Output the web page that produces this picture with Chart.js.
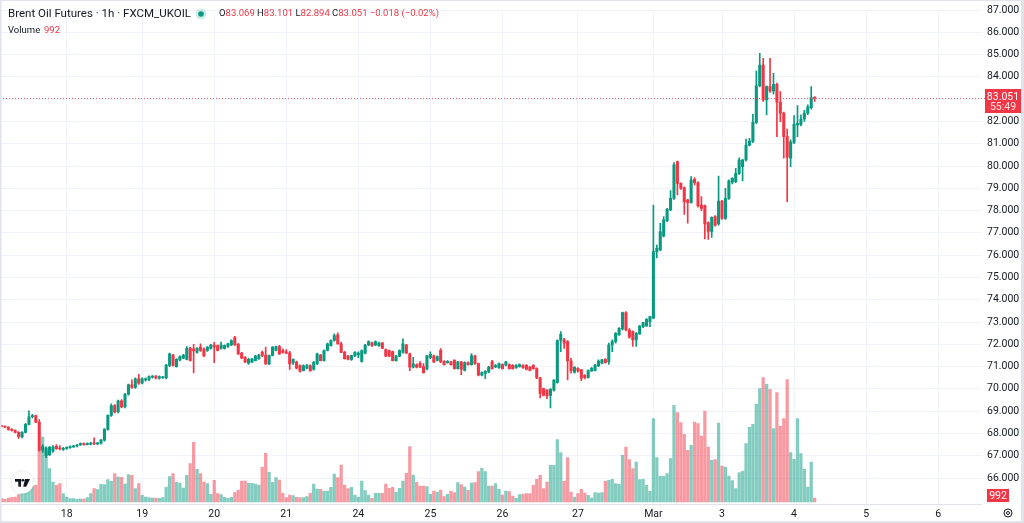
<!DOCTYPE html>
<html>
<head>
<meta charset="utf-8">
<script src="https://cdn.jsdelivr.net/npm/chart.js@4.4.1/dist/chart.umd.min.js"></script>
<style>
  html, body { margin: 0; padding: 0; background: #ffffff; }
  #wrap { width: 1024px; height: 523px; position: relative; }
</style>
</head>
<body>
<div id="wrap"><canvas id="grafico" width="1024" height="523"></canvas></div>
<script>
// hourly candles (index 0 = first bar on the left)
let opens = [
  68.33, 68.31, 68.28, 68.18, 68.13, 68.05, 67.85, 68.05, 68.41, 68.75,
  68.80, 68.51, 67.25, 67.00, 67.05, 67.20, 67.42, 67.32, 67.28, 67.33,
  67.36, 67.40, 67.43, 67.48, 67.55, 67.50, 67.52, 67.55, 67.53, 67.56,
  67.70, 68.18, 68.81, 69.25, 68.96, 69.46, 69.19, 69.76, 70.18, 70.06,
  70.45, 70.26, 70.40, 70.42, 70.52, 70.57, 70.48, 70.50, 70.50, 71.05,
  71.52, 71.00, 71.30, 71.38, 71.32, 71.82, 71.80, 71.64, 71.87, 71.79,
  71.72, 71.82, 71.97, 71.94, 71.82, 71.82, 71.90, 71.97, 72.30, 72.00,
  71.60, 71.41, 71.15, 71.20, 71.27, 71.35, 71.64, 71.52, 71.12, 71.50,
  71.72, 71.90, 71.72, 71.66, 71.62, 71.17, 71.20, 71.05, 70.82, 70.93,
  71.05, 70.87, 71.12, 71.52, 71.27, 71.72, 71.94, 72.17, 72.42, 72.02,
  71.64, 71.47, 71.32, 71.49, 71.52, 71.23, 71.60, 71.97, 72.06, 71.97,
  71.94, 72.06, 71.76, 71.72, 71.67, 71.27, 71.47, 71.64, 71.97, 71.57,
  70.97, 71.08, 71.15, 71.00, 70.90, 71.40, 71.48, 71.28, 71.73, 71.24,
  71.18, 71.21, 71.28, 70.91, 71.21, 70.83, 71.18, 71.09, 71.48, 71.13,
  70.61, 70.69, 70.76, 71.21, 70.98, 70.95, 71.09, 71.06, 71.09, 71.06,
  70.95, 71.00, 71.06, 71.06, 70.98, 71.06, 70.91, 70.49, 70.01, 69.94,
  69.71, 69.94, 70.28, 72.17, 72.20, 72.12, 71.25, 70.75, 70.92, 70.85,
  70.61, 70.51, 70.80, 70.82, 71.03, 71.15, 71.33, 71.22, 71.97, 72.12,
  72.42, 72.69, 73.42, 72.64, 72.57, 72.20, 72.47, 72.79, 72.82, 73.02,
  73.17, 76.16, 76.23, 76.86, 77.55, 78.03, 78.55, 80.20, 79.22, 79.03,
  78.48, 78.36, 79.40, 79.25, 78.25, 78.22, 77.46, 77.06, 77.73, 77.40,
  78.43, 77.65, 78.55, 79.27, 79.30, 79.67, 79.97, 80.27, 80.94, 81.10,
  81.96, 83.60, 84.53, 82.96, 83.56, 83.37, 83.67, 82.86, 82.37, 81.32,
  80.35, 81.06, 81.84, 81.87, 82.11, 82.37, 82.62, 83.069
];
let highs = [
  68.36, 68.33, 68.30, 68.22, 68.16, 68.08, 68.08, 68.45, 69.01, 68.86,
  68.82, 68.62, 67.50, 67.40, 67.42, 67.45, 67.50, 67.45, 67.38, 67.40,
  67.44, 67.46, 67.51, 67.58, 67.58, 67.58, 67.60, 67.80, 67.60, 67.73,
  68.22, 68.83, 69.33, 69.30, 69.50, 69.52, 69.80, 70.22, 70.40, 70.50,
  70.65, 70.50, 70.50, 70.58, 70.60, 70.60, 70.58, 70.56, 71.10, 71.60,
  71.55, 71.36, 71.48, 71.55, 71.90, 71.86, 72.00, 71.85, 72.02, 71.84,
  71.90, 72.00, 72.09, 71.98, 72.10, 71.98, 72.05, 72.20, 72.36, 72.04,
  71.64, 71.45, 71.38, 71.37, 71.50, 71.55, 71.70, 71.87, 71.52, 71.90,
  71.92, 71.95, 71.80, 71.76, 71.68, 71.35, 71.25, 71.08, 71.08, 71.10,
  71.08, 71.22, 71.60, 71.55, 71.75, 72.05, 72.20, 72.47, 72.51, 72.10,
  71.68, 71.50, 71.52, 71.67, 71.66, 71.75, 72.00, 72.15, 72.10, 72.15,
  72.10, 72.08, 71.80, 71.75, 71.70, 71.50, 71.75, 72.24, 72.00, 71.60,
  71.42, 71.12, 71.22, 71.13, 71.50, 71.66, 71.52, 71.48, 71.81, 71.27,
  71.27, 71.24, 71.31, 71.24, 71.24, 71.21, 71.21, 71.58, 71.51, 71.16,
  70.76, 70.82, 71.01, 71.28, 71.09, 71.16, 71.12, 71.24, 71.12, 71.09,
  71.09, 71.12, 71.09, 71.09, 71.01, 71.09, 70.94, 70.52, 70.04, 69.97,
  70.01, 70.42, 72.20, 72.57, 72.27, 72.17, 71.37, 71.00, 70.95, 70.88,
  70.64, 70.85, 70.97, 71.10, 71.30, 71.33, 71.36, 72.05, 72.20, 72.52,
  72.75, 73.45, 73.47, 72.70, 72.60, 72.52, 72.85, 72.99, 73.15, 73.26,
  78.25, 76.45, 77.43, 77.73, 78.10, 78.90, 80.15, 80.22, 79.25, 79.05,
  78.50, 79.52, 79.48, 79.30, 78.63, 78.25, 77.50, 77.72, 77.78, 79.55,
  78.46, 79.00, 79.38, 79.48, 79.90, 80.37, 80.30, 81.21, 81.24, 82.32,
  84.26, 85.06, 84.83, 83.60, 84.83, 84.16, 83.72, 83.34, 82.42, 81.66,
  81.17, 82.26, 82.71, 82.30, 82.50, 82.74, 83.56, 83.101
];
let lows = [
  68.29, 68.26, 68.15, 68.10, 68.02, 67.78, 67.80, 68.02, 68.38, 68.70,
  68.48, 67.20, 67.15, 66.91, 67.00, 67.15, 67.28, 67.26, 67.24, 67.28,
  67.33, 67.37, 67.40, 67.46, 67.47, 67.48, 67.48, 67.50, 67.50, 67.52,
  67.65, 68.15, 68.76, 68.92, 68.92, 69.15, 69.15, 69.72, 70.02, 70.02,
  70.20, 70.22, 70.35, 70.37, 70.48, 70.45, 70.44, 70.47, 70.45, 71.00,
  71.02, 70.97, 71.25, 71.35, 71.30, 71.25, 70.72, 71.60, 71.68, 71.45,
  71.68, 71.78, 71.17, 71.70, 71.78, 71.78, 71.86, 71.94, 71.95, 71.55,
  71.35, 71.18, 71.10, 71.17, 71.25, 71.32, 71.45, 71.10, 71.08, 71.48,
  71.70, 71.55, 71.60, 71.58, 70.87, 71.10, 70.90, 70.75, 70.80, 70.90,
  70.78, 70.84, 71.10, 71.25, 71.24, 71.70, 71.92, 72.14, 72.00, 71.62,
  71.33, 71.30, 71.28, 71.45, 71.40, 71.20, 71.57, 71.94, 71.90, 71.94,
  71.90, 71.80, 71.45, 71.45, 71.25, 71.24, 71.44, 71.60, 71.58, 70.82,
  70.94, 70.94, 70.95, 70.70, 70.85, 71.36, 71.18, 71.25, 71.18, 71.06,
  71.15, 71.06, 70.88, 70.88, 70.64, 70.80, 71.06, 71.06, 71.10, 70.58,
  70.58, 70.46, 70.73, 70.88, 70.95, 70.92, 70.88, 71.03, 70.88, 70.88,
  70.92, 70.97, 70.92, 70.85, 70.80, 70.88, 70.46, 69.59, 69.68, 69.56,
  69.15, 69.90, 70.25, 71.67, 71.82, 70.40, 70.70, 70.70, 70.75, 70.37,
  70.45, 70.48, 70.78, 70.80, 71.00, 71.12, 71.15, 71.10, 71.67, 72.05,
  72.40, 72.65, 72.60, 72.28, 71.90, 71.90, 72.44, 72.75, 72.80, 72.79,
  73.15, 75.88, 76.20, 76.82, 77.50, 78.00, 78.50, 78.70, 78.95, 77.83,
  77.43, 78.33, 79.15, 78.15, 78.00, 76.73, 76.71, 76.79, 77.30, 77.35,
  77.60, 77.60, 78.50, 79.20, 79.25, 79.62, 79.33, 80.22, 80.90, 81.05,
  81.90, 83.55, 82.90, 82.29, 83.30, 83.22, 81.32, 81.99, 80.35, 78.40,
  79.97, 81.00, 81.32, 81.80, 82.00, 82.30, 82.55, 82.894
];
let closes = [
  68.31, 68.28, 68.18, 68.13, 68.05, 67.85, 68.05, 68.41, 68.75, 68.80,
  68.51, 67.25, 67.42, 67.35, 67.38, 67.40, 67.32, 67.30, 67.33, 67.36,
  67.40, 67.43, 67.48, 67.55, 67.50, 67.56, 67.55, 67.53, 67.56, 67.70,
  68.18, 68.81, 69.25, 68.96, 69.46, 69.19, 69.76, 70.18, 70.06, 70.45,
  70.26, 70.45, 70.45, 70.55, 70.57, 70.48, 70.55, 70.53, 71.07, 71.57,
  71.05, 71.32, 71.45, 71.52, 71.82, 71.27, 71.70, 71.82, 71.72, 71.48,
  71.87, 71.97, 71.88, 71.72, 71.97, 71.94, 72.02, 72.17, 71.97, 71.57,
  71.38, 71.20, 71.33, 71.35, 71.47, 71.52, 71.50, 71.12, 71.50, 71.87,
  71.90, 71.57, 71.64, 71.60, 71.12, 71.32, 70.93, 70.78, 71.05, 71.05,
  70.82, 71.20, 71.57, 71.27, 71.72, 72.02, 72.17, 72.39, 72.02, 71.64,
  71.35, 71.32, 71.49, 71.64, 71.60, 71.72, 71.97, 72.12, 71.94, 72.12,
  72.05, 71.82, 71.47, 71.47, 71.27, 71.47, 71.72, 72.02, 71.61, 70.97,
  71.12, 70.97, 70.98, 70.73, 71.48, 71.55, 71.21, 71.45, 71.21, 71.09,
  71.24, 71.09, 70.91, 71.21, 70.88, 71.18, 71.09, 71.48, 71.13, 70.61,
  70.73, 70.79, 70.98, 70.91, 71.06, 71.13, 70.91, 71.21, 70.91, 70.91,
  71.06, 71.09, 70.95, 70.88, 70.83, 70.91, 70.49, 69.79, 69.71, 69.68,
  69.98, 70.39, 72.17, 72.45, 72.05, 71.25, 70.82, 70.97, 70.80, 70.48,
  70.51, 70.82, 70.92, 71.07, 71.25, 71.30, 71.18, 71.97, 72.12, 72.49,
  72.72, 73.42, 72.64, 72.32, 72.20, 72.49, 72.82, 72.97, 73.12, 73.24,
  76.16, 76.31, 77.06, 77.58, 78.06, 78.55, 80.05, 79.22, 79.00, 78.40,
  78.36, 79.37, 79.25, 78.21, 78.10, 77.40, 77.06, 77.70, 77.35, 78.43,
  77.65, 78.55, 79.33, 79.45, 79.67, 80.27, 80.27, 80.94, 81.12, 81.96,
  83.60, 84.53, 82.96, 83.56, 83.37, 83.67, 82.86, 82.37, 81.32, 80.40,
  81.09, 81.87, 81.91, 82.11, 82.37, 82.66, 83.07, 83.051
];
let volumes = [
  830, 670, 1000, 1170, 1250, 1830, 2080, 2500, 3080, 3920,
  4170, 12920, 16250, 12920, 8330, 5000, 4170, 4580, 2080, 1250,
  830, 830, 670, 750, 750, 1080, 2080, 3330, 3080, 4420,
  4330, 5580, 5170, 7080, 6250, 6170, 4500, 6830, 6670, 3330,
  4580, 1670, 1250, 1080, 1000, 1000, 920, 1080, 3670, 6330,
  7080, 4920, 4750, 3500, 6670, 9580, 14920, 8170, 7080, 5000,
  4580, 1920, 5420, 2080, 1830, 1170, 920, 1170, 2330, 3000,
  5250, 5250, 4670, 4670, 4500, 4250, 8670, 12170, 7420, 4920,
  6080, 5500, 2170, 1080, 1750, 1580, 1170, 1080, 1080, 1330,
  2170, 4500, 3250, 3170, 2750, 2750, 3670, 7000, 6080, 9250,
  4250, 3330, 3670, 1750, 1170, 5250, 2830, 1750, 920, 2170,
  2170, 2170, 4500, 3420, 3670, 2420, 3420, 5250, 7170, 13830,
  6750, 4920, 4000, 4000, 3830, 1920, 2750, 2500, 3000, 1330,
  1920, 2750, 2330, 4830, 4330, 3750, 2920, 4750, 4830, 7580,
  8420, 7580, 4000, 4000, 4580, 3170, 1750, 2750, 2580, 1500,
  920, 1830, 1920, 2080, 2080, 4170, 5670, 6670, 3330, 5000,
  9170, 9170, 15580, 12330, 5170, 11080, 2500, 1250, 2080, 3170,
  2250, 1670, 1000, 2330, 2250, 2330, 5170, 5420, 5670, 4580,
  4420, 11670, 13750, 10580, 8330, 10000, 5580, 5670, 4170, 2670,
  20830, 11080, 6420, 6420, 7080, 10830, 24170, 22330, 19830, 16920,
  12920, 14170, 20000, 19580, 16500, 22750, 13750, 10420, 10580, 19750,
  9000, 8750, 6500, 5330, 3330, 7330, 7670, 14580, 18670, 19420,
  24420, 28330, 31080, 29420, 28170, 18330, 27330, 18920, 20830, 30580,
  12330, 10670, 20830, 12080, 8170, 3750, 10000, 992
];

// first bar of each day and its label
let dayIndex = [19, 41, 62, 83, 104, 125, 146, 168, 190, 210, 231, 252, 273];
let dayLabels = ["18", "19", "20", "21", "24", "25", "26", "27", "Mar", "3", "4", "5", "6"];
// price ticks
let priceTicks = [66, 67, 68, 69, 70, 71, 72, 73, 74, 75, 76, 77, 78, 79, 80, 81, 82, 83, 84, 85, 86, 87];

let verde = "#089981";
let rojo = "#F23645";
let verdeVol = "rgba(8, 153, 129, 0.5)";
let rojoVol = "rgba(242, 54, 69, 0.5)";
let texto = "#131722";
let fuente = "Roboto, 'Noto Sans', sans-serif";

let cuerpos = [];
let mechas = [];
let barrasVol = [];
let coloresVela = [];
let coloresVol = [];
for (let i = 0; i < closes.length; i++) {
  let sube = closes[i] >= opens[i];
  cuerpos.push({ x: i, y: [Math.min(opens[i], closes[i]), Math.max(opens[i], closes[i])] });
  mechas.push({ x: i, y: [lows[i], highs[i]] });
  barrasVol.push({ x: i, y: volumes[i] });
  coloresVela.push(sube ? verde : rojo);
  coloresVol.push(sube ? verdeVol : rojoVol);
}
let ultimo = closes.length - 1;

// overlays drawn on top of the chart: header, last price marker, logo
const extras = {
  id: "extras",
  afterDatasetsDraw(chart) {
    let c = chart.ctx;
    let area = chart.chartArea;
    let y = chart.scales.y.getPixelForValue(closes[ultimo]);
    c.save();
    c.strokeStyle = "rgba(242, 54, 69, 0.8)";
    c.lineWidth = 1;
    c.setLineDash([1, 2]);
    c.beginPath();
    c.moveTo(area.left, Math.round(y) + 0.5);
    c.lineTo(area.right + 4, Math.round(y) + 0.5);
    c.stroke();
    c.restore();
  },
  afterDraw(chart) {
    let c = chart.ctx;
    let area = chart.chartArea;
    c.save();
    c.textBaseline = "middle";
    c.textAlign = "left";

    // header line
    c.font = "11.5px " + fuente;
    c.fillStyle = texto;
    c.fillText("Brent Oil Futures · 1h · FXCM_UKOIL", 8, 14);
    c.fillStyle = "rgba(8, 153, 129, 0.18)";
    c.beginPath(); c.arc(201, 14, 5.5, 0, Math.PI * 2); c.fill();
    c.fillStyle = verde;
    c.beginPath(); c.arc(201, 14, 2.8, 0, Math.PI * 2); c.fill();

    c.font = "9.5px " + fuente;
    let partes = [
      ["O", texto], [opens[ultimo].toFixed(3), rojo], [" H", texto], [highs[ultimo].toFixed(3), rojo],
      [" L", texto], [lows[ultimo].toFixed(3), rojo], [" C", texto], [closes[ultimo].toFixed(3), rojo],
      [" \u22120.018 (\u22120.02%)", rojo]
    ];
    let px = 219;
    partes.forEach(p => {
      c.fillStyle = p[1];
      c.fillText(p[0], px, 14);
      px += c.measureText(p[0]).width;
    });
    c.fillStyle = texto;
    c.fillText("Volume", 8, 31);
    c.fillStyle = rojo;
    c.fillText(String(volumes[ultimo]), 44, 31);

    // last price box with countdown
    let y = chart.scales.y.getPixelForValue(closes[ultimo]);
    c.fillStyle = rojo;
    c.fillRect(area.right + 4, y - 9, 36, 24);
    c.fillStyle = "#ffffff";
    c.textAlign = "center";
    c.font = "10.5px " + fuente;
    c.fillText(closes[ultimo].toFixed(3), area.right + 22, y - 0.5);
    c.fillStyle = "rgba(255, 255, 255, 0.85)";
    c.fillText("55:49", area.right + 22, y + 9.5);

    // volume value box
    c.fillStyle = rojo;
    c.fillRect(area.right + 6, 489, 22, 13);
    c.fillStyle = "#ffffff";
    c.fillText(String(volumes[ultimo]), area.right + 17, 496);

    // settings icon
    c.strokeStyle = texto;
    c.lineWidth = 1;
    c.beginPath(); c.arc(1008, 513, 4, 0, Math.PI * 2); c.stroke();
    c.beginPath(); c.arc(1008, 513, 1.5, 0, Math.PI * 2); c.stroke();

    // logo
    c.shadowColor = "rgba(0, 0, 0, 0.15)";
    c.shadowBlur = 3;
    c.fillStyle = "#ffffff";
    c.beginPath(); c.arc(22.5, 482.5, 11, 0, Math.PI * 2); c.fill();
    c.shadowBlur = 0;
    c.fillStyle = "#131722";
    c.fillRect(15, 479, 6.3, 2.7);
    c.fillRect(18.3, 479, 2.7, 7.7);
    c.beginPath(); c.arc(23, 480.3, 1.3, 0, Math.PI * 2); c.fill();
    c.beginPath();
    c.moveTo(25, 479); c.lineTo(30, 479); c.lineTo(26.2, 486.7); c.lineTo(23.2, 486.7);
    c.closePath(); c.fill();

    // frame
    c.fillStyle = "#E0E3EB";
    c.fillRect(0, 0, 1024, 1);
    c.fillRect(0, 0, 1.5, 523);
    c.fillRect(1021, 0, 3, 523);
    c.fillRect(0, 521, 1024, 2);
    c.restore();
  }
};

let ctx = document.getElementById("grafico").getContext("2d");
let grafico = new Chart(ctx, {
  type: "bar",
  data: {
    datasets: [
      {
        label: "cuerpos", data: cuerpos, backgroundColor: coloresVela, yAxisID: "y",
        barThickness: 2.4, grouped: false, order: 0, minBarLength: 1, borderWidth: 0
      },
      {
        label: "mechas", data: mechas, backgroundColor: coloresVela, yAxisID: "y",
        barThickness: 1, grouped: false, order: 1, minBarLength: 1, borderWidth: 0
      },
      {
        label: "volumen", data: barrasVol, backgroundColor: coloresVol, yAxisID: "yv",
        barThickness: 2.6, grouped: false, order: 2, borderWidth: 0
      }
    ]
  },
  options: {
    responsive: false,
    animation: false,
    layout: { padding: 0, autoPadding: false },
    plugins: { legend: { display: false }, tooltip: { enabled: false } },
    scales: {
      x: {
        type: "linear",
        min: -0.44,
        max: 285.5,
        offset: false,
        afterBuildTicks: (s) => { s.ticks = dayIndex.map(v => ({ value: v })); },
        afterFit: (s) => { s.height = 19; },
        grid: { color: "#F0F3FA", drawTicks: false, offset: false },
        border: { color: "#E0E3EB" },
        ticks: {
          autoSkip: false, maxRotation: 0, padding: 4, color: texto,
          font: { family: fuente, size: 10.5 },
          callback: (v, i) => dayLabels[i]
        }
      },
      y: {
        position: "right",
        min: 64.833,
        max: 87.449,
        afterBuildTicks: (s) => { s.ticks = priceTicks.map(v => ({ value: v })); },
        afterFit: (s) => { s.width = 43; },
        grid: { color: "#F0F3FA", drawTicks: false },
        border: { display: false },
        ticks: {
          padding: 6, color: texto,
          font: { family: fuente, size: 10.5 },
          callback: (v) => Number(v).toFixed(3)
        }
      },
      yv: { display: false, min: -500, max: 125500 }
    }
  },
  plugins: [extras]
});

// fit the value ranges to the plot box that Chart.js laid out:
// 87 sits 10px below the top, one price unit = 22.286px, volume baseline at y=502, 250 per px
let area = grafico.chartArea;
grafico.options.scales.y.min = 87 - (area.bottom - 10) / 22.286;
grafico.options.scales.y.max = 87 + (10 - area.top) / 22.286;
grafico.options.scales.yv.min = -(area.bottom - 502) * 250;
grafico.options.scales.yv.max = (502 - area.top) * 250;
grafico.options.scales.x.min = (area.left - 1.5) / 3.431;
grafico.options.scales.x.max = (area.right - 1.5) / 3.431;
grafico.update();
</script>
</body>
</html>
